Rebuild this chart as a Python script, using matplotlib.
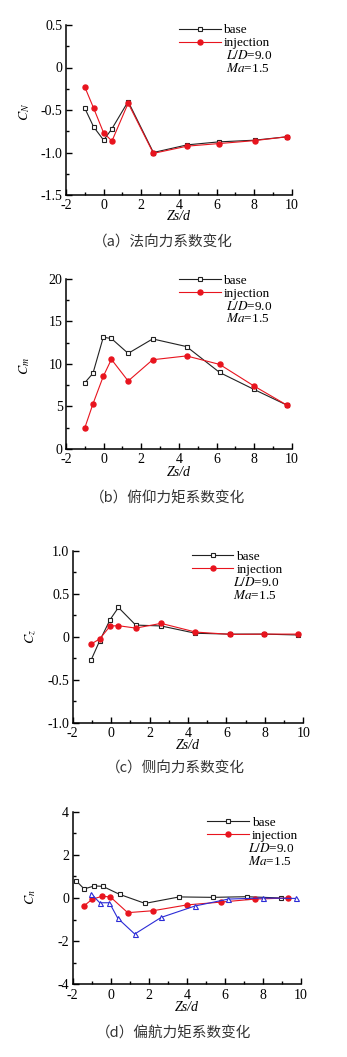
import numpy as np
import matplotlib
matplotlib.use('Agg')
import matplotlib.pyplot as plt
from matplotlib.ticker import MultipleLocator, FuncFormatter

plt.rcParams['font.family'] = ['Liberation Serif', 'DejaVu Serif']
plt.rcParams['mathtext.fontset'] = 'stix'
plt.rcParams['axes.unicode_minus'] = False

# (a) normal force
xa = [-1.0, -0.53, 0.0, 0.44, 1.3, 2.64, 4.44, 6.12, 8.02, 9.73]
cn_base = [-0.48, -0.70, -0.855, -0.72, -0.40, -1.0, -0.91, -0.875, -0.855, -0.815]
cn_inj = [-0.23, -0.48, -0.77, -0.865, -0.42, -1.01, -0.925, -0.895, -0.86, -0.815]

# (b) pitching moment
xb = [-1.0, -0.57, -0.02, 0.41, 1.3, 2.6, 4.4, 6.16, 7.99, 9.74]
cm_base = [7.8, 8.9, 13.15, 13.0, 11.25, 12.95, 12.05, 9.0, 7.0, 5.15]
cm_inj = [2.5, 5.3, 8.55, 10.55, 8.0, 10.5, 10.95, 9.95, 7.4, 5.15]

# (c) side force
xc = [-1.04, -0.6, -0.05, 0.38, 1.28, 2.6, 4.39, 6.19, 7.97, 9.71]
cz_base = [-0.27, -0.05, 0.20, 0.34, 0.135, 0.125, 0.04, 0.03, 0.03, 0.02]
cz_inj = [-0.085, -0.027, 0.124, 0.128, 0.10, 0.155, 0.054, 0.027, 0.03, 0.03]

# (d) yawing moment
xd_base = [-1.82, -1.4, -0.86, -0.42, 0.46, 1.8, 3.6, 5.36, 7.14, 8.93]
cnn_base = [0.80, 0.42, 0.56, 0.54, 0.17, -0.25, 0.05, 0.03, 0.06, 0.0]
xd_inj = [-1.4, -0.98, -0.46, -0.02, 0.89, 2.22, 4.01, 5.78, 7.57, 9.34]
cnn_inj = [-0.36, -0.06, 0.08, 0.05, -0.68, -0.59, -0.32, -0.19, -0.05, 0.0]
xd_blue = [-1.03, -0.58, -0.07, 0.37, 1.26, 2.65, 4.43, 6.18, 7.99, 9.74]
cnn_blue = [0.20, -0.22, -0.22, -0.94, -1.67, -0.90, -0.37, -0.05, 0.0, -0.02]

W, H = 347, 1057
BLACK = '#222222'
RED = '#e8141e'
BLUE = '#2b2bd6'

fig = plt.figure(figsize=(W / 100, H / 100), dpi=100)


def rect(l, r, t, b):
    return [l / W, 1 - b / H, (r - l) / W, (b - t) / H]


def fmt(v, pos):
    if abs(v) < 1e-9:
        return '0'
    if float(v).is_integer() and abs(v) >= 2:
        return '%d' % v
    return '%.1f' % v


def style(ax, ylim, ymaj, ymin, ylabel, lx, ly, xly):
    ax.set_xlim(-2, 10)
    ax.set_ylim(*ylim)
    ax.xaxis.set_major_locator(MultipleLocator(2))
    ax.xaxis.set_minor_locator(MultipleLocator(1))
    ax.yaxis.set_major_locator(MultipleLocator(ymaj))
    ax.yaxis.set_minor_locator(MultipleLocator(ymin))
    ax.yaxis.set_major_formatter(FuncFormatter(fmt))
    ax.xaxis.set_major_formatter(FuncFormatter(fmt))
    for s in ['top', 'right']:
        ax.spines[s].set_visible(False)
    for s in ['left', 'bottom']:
        ax.spines[s].set_linewidth(1.1)
    ax.tick_params(which='both', direction='in', width=1.0, labelsize=10)
    ax.tick_params(axis='y', pad=2.5)
    ax.tick_params(axis='x', pad=3.2)
    ax.tick_params(which='major', length=4)
    ax.tick_params(which='minor', length=2.2)
    ax.set_ylabel(ylabel, fontsize=10)
    ax.yaxis.set_label_coords(lx, ly)
    ax.set_xlabel('Zs/d', fontsize=10, style='italic')
    ax.xaxis.set_label_coords(0.5, xly)


def legend(ax, hb, hi, x0, ytop, xt):
    ax.legend([hb, hi], ['base', 'injection'], loc='upper left',
              bbox_to_anchor=(x0, ytop), frameon=False, fontsize=9.5,
              handlelength=3.15, handletextpad=0.22, borderpad=0,
              borderaxespad=0, labelspacing=0.05, numpoints=1)
    ax.text(xt, ytop - 0.185, r'$L/D$=9.0', transform=ax.transAxes,
            fontsize=9.5, va='center', ha='left')
    ax.text(xt, ytop - 0.26, r'$Ma$=1.5', transform=ax.transAxes,
            fontsize=9.5, va='center', ha='left')


def plot_pair(ax, xb_, yb_, xi_, yi_):
    hb, = ax.plot(xb_, yb_, '-s', color=BLACK, lw=0.8, ms=3.2,
                  mfc='white', mec=BLACK, mew=0.8)
    hi, = ax.plot(xi_, yi_, '-o', color=RED, lw=0.8, ms=3.6,
                  mfc=RED, mec=RED)
    return hb, hi


# (a)
ax = fig.add_axes(rect(66, 292, 25, 195))
hb, hi = plot_pair(ax, xa, cn_base, xa, cn_inj)
style(ax, (-1.5, 0.5), 0.5, 0.25, r'$C_N$', -0.15, 0.49, -0.09)
legend(ax, hb, hi, 0.50, 1.005, 0.707)

# (b)
ax = fig.add_axes(rect(66, 292, 279, 449))
hb, hi = plot_pair(ax, xb, cm_base, xb, cm_inj)
style(ax, (0, 20), 5, 2.5, r'$C_m$', -0.15, 0.49, -0.10)
legend(ax, hb, hi, 0.50, 1.025, 0.707)

# (c)
ax = fig.add_axes(rect(72.7, 303.3, 550.7, 722.7))
hb, hi = plot_pair(ax, xc, cz_base, xc, cz_inj)
style(ax, (-1.0, 1.0), 0.5, 0.25, r'$C_z$', -0.15, 0.50, -0.095)
legend(ax, hb, hi, 0.517, 1.0, 0.695)

# (d)
ax = fig.add_axes(rect(72.7, 301, 811.7, 984.3))
hb, hi = plot_pair(ax, xd_base, cnn_base, xd_inj, cnn_inj)
ax.plot(xd_blue, cnn_blue, '-^', color=BLUE, lw=0.8, ms=3.6,
        mfc='white', mec=BLUE, mew=0.8)
style(ax, (-4, 4), 2, 1, r'$C_n$', -0.15, 0.506, -0.097)
legend(ax, hb, hi, 0.589, 0.97, 0.768)

# captions
cap_font = ['Noto Sans CJK SC', 'DejaVu Sans']
captions = ['（a）法向力系数变化', '（b）俯仰力矩系数变化',
            '（c）侧向力系数变化', '（d）偏航力矩系数变化']
cap_x = [163, 168, 175, 174]
cap_y = [243, 498, 769, 1033]
for t, cx, cy in zip(captions, cap_x, cap_y):
    fig.text(cx / W, 1 - cy / H, t, ha='center', va='center',
             fontsize=10.5, family=cap_font, color='#333333')

fig.savefig('out.png', dpi=100)
